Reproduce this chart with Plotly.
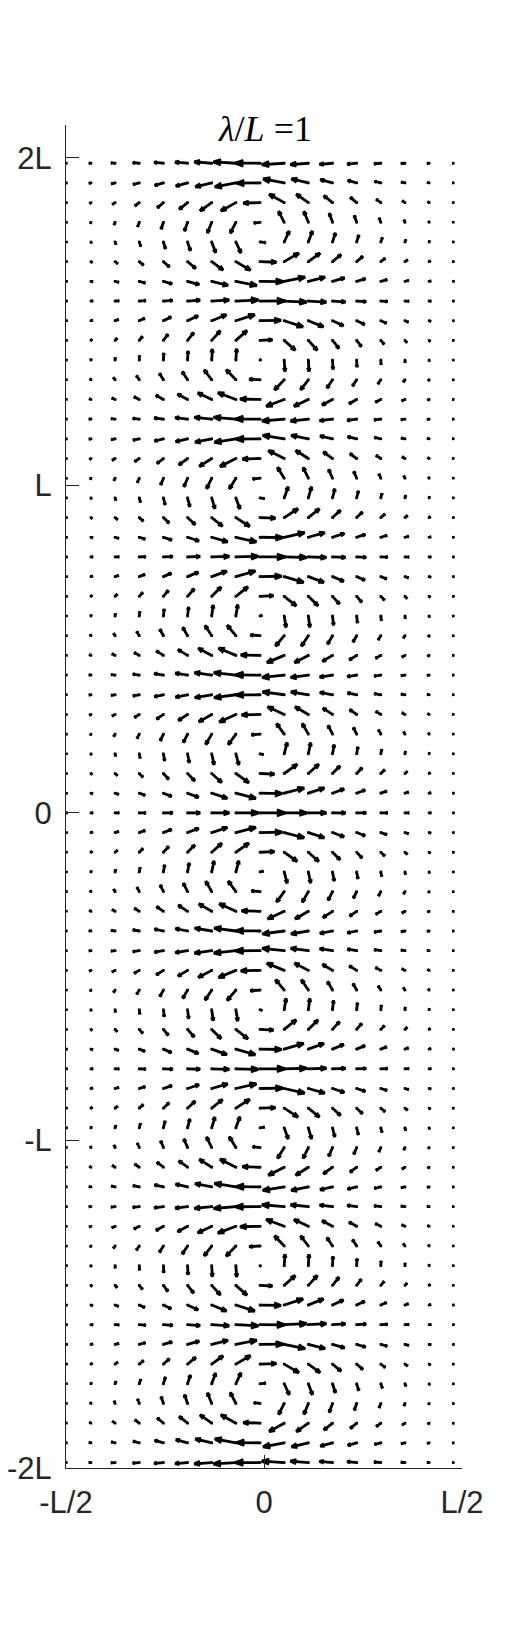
import numpy as np
import plotly.graph_objects as go

# ---- data (lengths in units of L) ----
x_grid = [-0.499, -0.437, -0.376, -0.315, -0.254, -0.193, -0.132, -0.071, -0.010,
          0.051, 0.112, 0.173, 0.234, 0.295, 0.356, 0.417, 0.478]
row_index = list(range(-33, 34))
row_spacing = 0.0601
# relative horizontal-velocity amplitude per column (at the strong rows)
u_profile = [0.03, 0.08, 0.16, 0.26, 0.37, 0.50, 0.70, 0.90, 1.00,
             0.90, 0.72, 0.52, 0.38, 0.27, 0.16, 0.08, 0.03]
# relative vertical-velocity amplitude per column (at the vortex-centre rows)
v_profile = [-0.02, -0.05, -0.10, -0.18, -0.28, -0.36, -0.44, -0.45, -0.03,
             0.45, 0.45, 0.37, 0.28, 0.18, 0.10, 0.05, 0.02]
wavenumber = 7.98  # rad per L, from spacing of strong rows

x_tick_vals = [-0.5, 0, 0.5]
x_tick_text = ["-L/2", "0", "L/2"]
y_tick_vals = [-2, -1, 0, 1, 2]
y_tick_text = ["-2L", "-L", "0", "L", "2L"]
title_text = "<i>λ</i>/<i>L</i> =1"

# ---- geometry (page has an 8 px body margin) ----
PAGE_OFF = 8
W, H = 510 - PAGE_OFF, 1650 - PAGE_OFF
left_px, right_px = 66 - PAGE_OFF, 462 - PAGE_OFF
top_px, bottom_px = 124.5 - PAGE_OFF, 1468.3 - PAGE_OFF
x_range = [-0.5, 0.5]
y_range = [-2.0, 2.1]
px_per_x = (right_px - left_px) / (x_range[1] - x_range[0])
px_per_y = (bottom_px - top_px) / (y_range[1] - y_range[0])
arrow_px = 25.0
alpha, beta = 0.33, 0.36

y_grid = [k * row_spacing for k in row_index]

xs, ys, tx, ty = [], [], [], []
for yv in y_grid:
    cu = np.cos(wavenumber * yv)
    sv = np.sin(wavenumber * yv)
    for j, xv in enumerate(x_grid):
        du = u_profile[j] * cu * arrow_px
        dv = v_profile[j] * sv * arrow_px
        tipx, tipy = du, dv
        h1x = tipx - alpha * (du + beta * dv)
        h1y = tipy - alpha * (dv - beta * du)
        h2x = tipx - alpha * (du - beta * dv)
        h2y = tipy - alpha * (dv + beta * du)
        cx = lambda p: xv + p / px_per_x
        cy = lambda p: yv + p / px_per_y
        xs += [xv, cx(tipx), None, cx(h1x), cx(tipx), cx(h2x), None]
        ys += [yv, cy(tipy), None, cy(h1y), cy(tipy), cy(h2y), None]
        tx.append(xv)
        ty.append(yv)

fig = go.Figure()
fig.add_trace(go.Scatter(x=xs, y=ys, mode="lines",
                         line=dict(color="black", width=2.8, simplify=False),
                         hoverinfo="skip", showlegend=False))
fig.add_trace(go.Scatter(x=tx, y=ty, mode="markers",
                         marker=dict(color="black", size=2.6, symbol="square", line=dict(width=0)),
                         hoverinfo="skip", showlegend=False))

axis_color = "#262626"
tick_font = dict(family="Liberation Sans, Arial, sans-serif", size=31, color=axis_color)
fig.update_xaxes(range=x_range, tickmode="array", tickvals=x_tick_vals, ticktext=x_tick_text,
                 ticks="inside", ticklen=13, tickwidth=1, tickcolor=axis_color,
                 showline=True, linecolor=axis_color, linewidth=1, mirror=False, automargin=False,
                 showgrid=False, zeroline=False, tickfont=tick_font, ticklabelstandoff=7)
fig.update_yaxes(range=y_range, tickmode="array", tickvals=y_tick_vals, ticktext=y_tick_text,
                 ticks="inside", ticklen=13, tickwidth=1, tickcolor=axis_color,
                 showline=True, linecolor=axis_color, linewidth=1, mirror=False, automargin=False,
                 showgrid=False, zeroline=False, tickfont=tick_font, ticklabelstandoff=7)

title_center_px = 129 - PAGE_OFF
fig.add_annotation(text=title_text, xref="paper", yref="paper",
                   x=(265 - PAGE_OFF - left_px) / (right_px - left_px),
                   y=1 - (title_center_px - top_px) / (bottom_px - top_px),
                   xanchor="center", yanchor="middle", showarrow=False,
                   font=dict(family="Liberation Serif, DejaVu Serif, serif", size=36, color="black"))

fig.update_layout(width=W, height=H, autosize=False,
                  margin=dict(l=left_px, r=W - right_px, t=top_px, b=H - bottom_px, pad=0,
                              autoexpand=False),
                  paper_bgcolor="white", plot_bgcolor="white")

fig.write_html("out.html")
